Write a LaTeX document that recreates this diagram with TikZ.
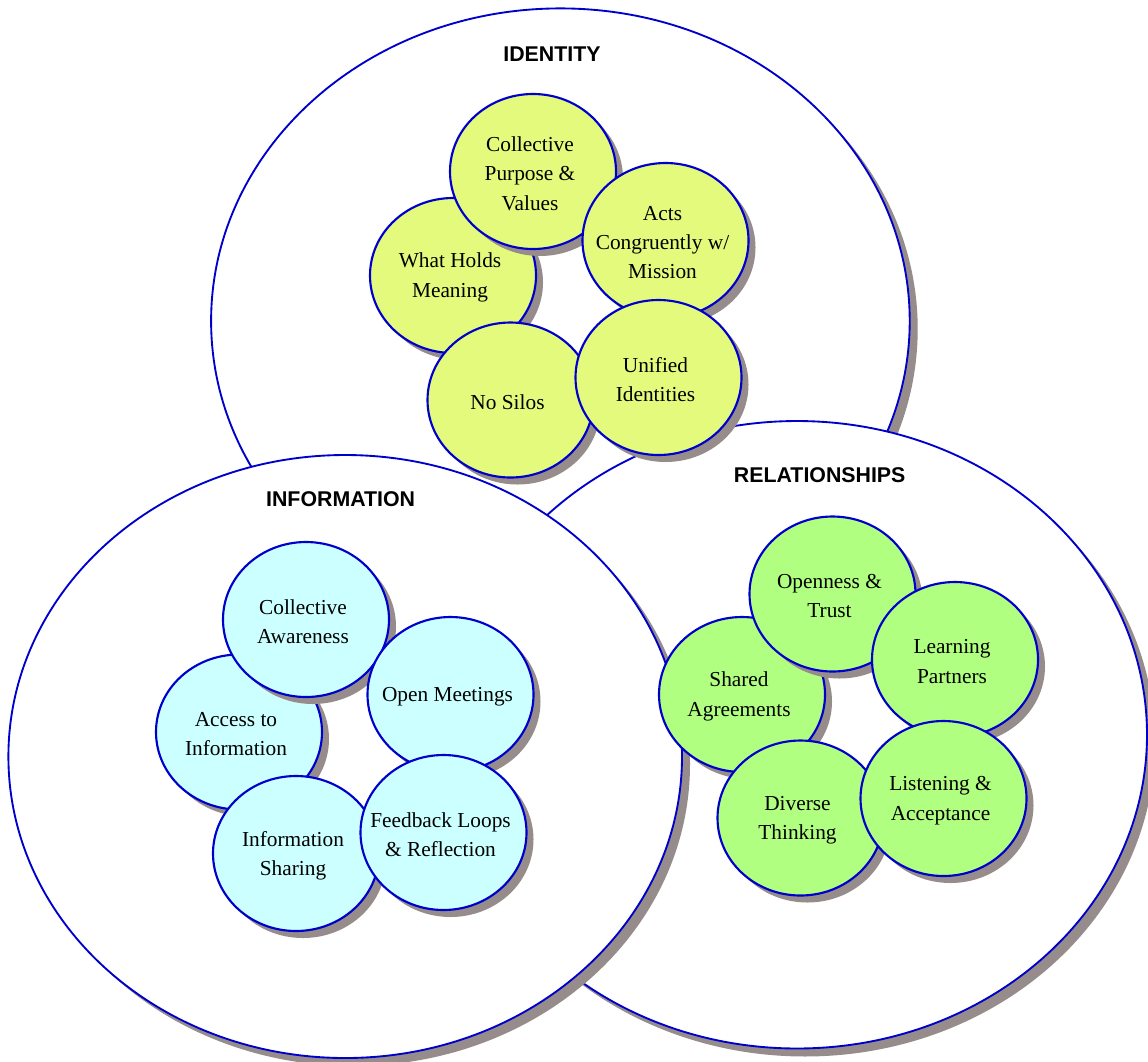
\documentclass[tikz,border=0pt]{standalone}
\usepackage{fontspec}
\setmainfont{Liberation Serif}
\newfontfamily\headfont{Liberation Sans}
\usetikzlibrary{shapes.geometric,shadows}
\definecolor{edgeblue}{RGB}{0,0,204}
\definecolor{shgray}{RGB}{150,140,140}
\definecolor{idfill}{RGB}{228,250,125}
\definecolor{infofill}{RGB}{204,255,255}
\definecolor{relfill}{RGB}{176,255,128}
\begin{document}
\begin{tikzpicture}[x=0.75pt, y=-0.75pt,
  bigell/.style={ellipse, draw=edgeblue, line width=1.4pt, fill=white, inner sep=0pt,
    drop shadow={shadow xshift=6pt, shadow yshift=-6pt, opacity=1, fill=shgray}},
  smallell/.style={ellipse, draw=edgeblue, line width=1.6pt, inner sep=0pt,
    minimum width=124.5pt, minimum height=116.25pt,
    drop shadow={shadow xshift=5.25pt, shadow yshift=-5.25pt, opacity=1, fill=shgray}},
  idell/.style={smallell, fill=idfill},
  infoell/.style={smallell, fill=infofill},
  relell/.style={smallell, fill=relfill},
  txt/.style={align=center, font=\fontsize{16}{22}\selectfont, inner sep=0pt,
    xshift=-2.25pt, yshift=-1.5pt},
  head/.style={font=\headfont\bfseries\fontsize{16}{19}\selectfont, inner sep=0pt}]
\useasboundingbox (0,0) rectangle (1148,1061);
\clip (0,0) rectangle (1148,1061);

% large ellipses
\node[bigell, minimum width=523.95pt, minimum height=468.9pt] (idbig) at (560.4,321) {};
\node[bigell, minimum width=525pt, minimum height=470.6pt] (relbig) at (797,734.75) {};
\node[bigell, minimum width=505.2pt, minimum height=452.25pt] (infobig) at (345.2,756.5) {};

% headings
\node[head] (idlab) at (552,54.4) {IDENTITY};
\node[head] (infolab) at (340.6,499) {INFORMATION};
\node[head] (rellab) at (819.7,475.4) {RELATIONSHIPS};

% identity cluster
\node[idell] (whm) at (453,275.5) {};
\node[txt] (whmt) at (whm.center) {What Holds\\Meaning};
\node[idell] (cpv) at (533,171.5) {};
\node[txt] (cpvt) at (cpv.center) {Collective\\Purpose \&\\Values};
\node[idell] (act) at (665.5,240.5) {};
\node[txt] (actt) at (act.center) {Acts\\Congruently w/\\Mission};
\node[idell] (nos) at (510.5,400) {};
\node[txt] (nost) at (nos.center) {No Silos};
\node[idell] (uni) at (658.5,377.5) {};
\node[txt] (unit) at (uni.center) {Unified\\Identities};

% information cluster
\node[infoell] (acc) at (239,732) {};
\node[txt] (acct) at (acc.center) {Access to\\Information};
\node[infoell] (cla) at (306,619.5) {};
\node[txt] (clat) at (cla.center) {Collective\\Awareness};
\node[infoell] (opm) at (450.5,694.5) {};
\node[txt] (opmt) at (opm.center) {Open Meetings};
\node[infoell] (ish) at (296,853.5) {};
\node[txt] (isht) at (ish.center) {Information\\Sharing};
\node[infoell] (fbl) at (443.5,832.5) {};
\node[txt] (fblt) at (fbl.center) {Feedback Loops\\\& Reflection};

% relationships cluster
\node[relell] (sha) at (742,694.5) {};
\node[txt] (shat) at (sha.center) {Shared\\Agreements};
\node[relell] (opt) at (832.5,594) {};
\node[txt] (optt) at (opt.center) {Openness \&\\Trust};
\node[relell] (lrp) at (955,659.5) {};
\node[txt] (lrpt) at (lrp.center) {Learning\\Partners};
\node[relell] (dvt) at (800.5,818) {};
\node[txt] (dvtt) at (dvt.center) {Diverse\\Thinking};
\node[relell] (lac) at (943.5,798.5) {};
\node[txt] (lact) at (lac.center) {Listening \&\\Acceptance};
\end{tikzpicture}
\end{document}
